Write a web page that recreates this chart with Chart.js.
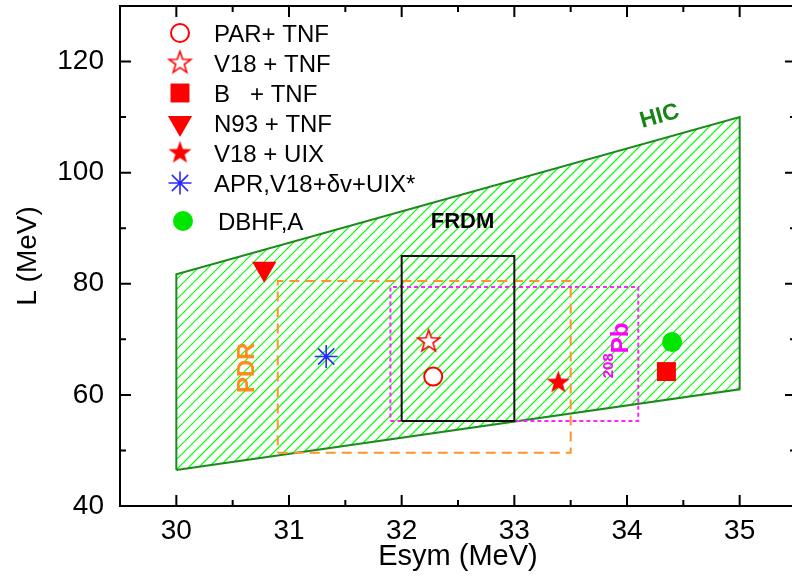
<!DOCTYPE html>
<html>
<head>
<meta charset="utf-8">
<script src="https://cdn.jsdelivr.net/npm/chart.js@4.4.0/dist/chart.umd.min.js"></script>
<style>
  html, body { margin: 0; padding: 0; background: #fff; overflow: hidden; }
  canvas { display: block; }
</style>
</head>
<body>
<canvas id="chart" width="800" height="577"></canvas>
<script>
const FONT = "'Liberation Sans', Arial, Helvetica, sans-serif";

// axis ticks
const xTicks = [30, 31, 32, 33, 34, 35];
const yTicks = [40, 60, 80, 100, 120];

// model predictions: symmetry energy Esym and slope L (MeV)
const models = ["PAR+ TNF", "V18 + TNF", "B   + TNF", "N93 + TNF", "V18 + UIX", "APR,V18+\u03B4v+UIX*", "DBHF,A"];
const esym = [32.28, 32.24, 34.35, 30.78, 33.39, 31.33, 34.40];
const slope = [63.3, 69.6, 64.2, 82.7, 62.2, 66.9, 69.5];

// constraint regions
const hicUpper = [[30, 81.7], [35, 110]];
const hicLower = [[30, 46.5], [35, 61]];
const frdmEsym = [32, 33];
const frdmL = [55.3, 85];
const pdrEsym = [30.9, 33.5];
const pdrL = [49.6, 80.5];
const pbEsym = [31.9, 34.1];
const pbL = [55.3, 79.4];

const ctx = document.getElementById("chart").getContext("2d");

function starImage(R, r, fill, stroke, lw) {
    const size = Math.ceil(2 * R + lw + 4);
    const c = document.createElement("canvas");
    c.width = size; c.height = size;
    const g = c.getContext("2d");
    const cx = size / 2, cy = size / 2;
    g.beginPath();
    for (let i = 0; i < 10; i++) {
        const rad = i % 2 === 0 ? R : r;
        const a = -Math.PI / 2 + i * Math.PI / 5;
        const px = cx + rad * Math.cos(a), py = cy + rad * Math.sin(a);
        if (i === 0) g.moveTo(px, py); else g.lineTo(px, py);
    }
    g.closePath();
    g.fillStyle = fill;
    g.fill();
    if (lw > 0) {
        g.lineWidth = lw;
        g.strokeStyle = stroke;
        g.lineJoin = "miter";
        g.stroke();
    }
    return c;
}

// marker look for each model, in the same order as above
const markers = [
    { pointStyle: "circle", radius: 9, backgroundColor: "#fff", borderColor: "#ff0000", borderWidth: 2 },
    { pointStyle: starImage(11.5, 4.6, "#fff", "#ff0000", 1.6), radius: 11, backgroundColor: "#ff0000", borderColor: "#ff0000", borderWidth: 0 },
    { pointStyle: "rect", radius: 13.4, backgroundColor: "#ff0000", borderColor: "#ff0000", borderWidth: 0 },
    { pointStyle: "triangle", rotation: 180, radius: 14, backgroundColor: "#ff0000", borderColor: "#ff0000", borderWidth: 0 },
    { pointStyle: starImage(12.2, 4.9, "#ff0000", "#ff0000", 0), radius: 12, backgroundColor: "#ff0000", borderColor: "#ff0000", borderWidth: 0 },
    { pointStyle: "star", radius: 11.5, backgroundColor: "#2a2aff", borderColor: "#2a2aff", borderWidth: 1.6 },
    { pointStyle: "circle", radius: 10, backgroundColor: "#00e600", borderColor: "#00e600", borderWidth: 0 }
];

function box(xs, ls) {
    return [
        { x: xs[0], y: ls[0] }, { x: xs[1], y: ls[0] }, { x: xs[1], y: ls[1] },
        { x: xs[0], y: ls[1] }, { x: xs[0], y: ls[0] }
    ];
}

function shape(data, color, width, dash) {
    return {
        data: data, showLine: true, fill: false, pointRadius: 0, tension: 0,
        borderColor: color, borderWidth: width, borderDash: dash || [],
        borderJoinStyle: "miter", borderCapStyle: "butt"
    };
}

const datasets = [];
models.forEach((name, i) => {
    const m = markers[i];
    datasets.push({
        label: name,
        data: [{ x: esym[i], y: slope[i] }],
        pointStyle: m.pointStyle,
        rotation: m.rotation || 0,
        pointRadius: m.radius,
        backgroundColor: m.backgroundColor,
        borderColor: m.borderColor,
        borderWidth: m.borderWidth
    });
});

datasets.push(shape(box(frdmEsym, frdmL), "#111", 2));
datasets.push(shape(box(pbEsym, pbL), "#ff22ff", 2, [4, 3]));
datasets.push(shape(box(pdrEsym, pdrL), "#ff9428", 2, [10, 6]));
datasets.push(shape([
    { x: hicLower[0][0], y: hicLower[0][1] }, { x: hicUpper[0][0], y: hicUpper[0][1] },
    { x: hicUpper[1][0], y: hicUpper[1][1] }, { x: hicLower[1][0], y: hicLower[1][1] },
    { x: hicLower[0][0], y: hicLower[0][1] }
], "#1c8a1c", 2));

// diagonal hatching inside the HIC band
const hatchPlugin = {
    id: "hicHatch",
    beforeDatasetsDraw(chart) {
        const { ctx, chartArea: a, scales: { x, y } } = chart;
        const poly = [hicLower[0], hicUpper[0], hicUpper[1], hicLower[1]]
            .map(p => [x.getPixelForValue(p[0]), y.getPixelForValue(p[1])]);
        ctx.save();
        ctx.beginPath();
        poly.forEach((p, i) => i ? ctx.lineTo(p[0], p[1]) : ctx.moveTo(p[0], p[1]));
        ctx.closePath();
        ctx.clip();
        ctx.setLineDash([]);
        ctx.strokeStyle = "#00ff00";
        ctx.lineWidth = 1.2;
        ctx.beginPath();
        const h = a.bottom - a.top;
        for (let k = a.left - h; k < a.right; k += 10) {
            ctx.moveTo(k, a.bottom);
            ctx.lineTo(k + h, a.top);
        }
        ctx.stroke();
        ctx.restore();
    }
};

// frame with inward ticks on all four sides
const framePlugin = {
    id: "frame",
    afterDraw(chart) {
        const { ctx, chartArea: a, scales: { x, y } } = chart;
        ctx.save();
        ctx.strokeStyle = "#000";
        ctx.lineWidth = 2;
        ctx.beginPath();
        for (let v = 30; v <= 35; v += 0.5) {
            const len = Number.isInteger(v) ? 11 : 6;
            const px = x.getPixelForValue(v);
            ctx.moveTo(px, a.bottom); ctx.lineTo(px, a.bottom - len);
            ctx.moveTo(px, a.top); ctx.lineTo(px, a.top + len);
        }
        for (let v = 50; v < 130; v += 10) {
            const len = yTicks.includes(v) ? 11 : 6;
            const py = y.getPixelForValue(v);
            ctx.moveTo(a.left, py); ctx.lineTo(a.left + len, py);
            ctx.moveTo(a.right, py); ctx.lineTo(a.right - len, py);
        }
        ctx.stroke();
        ctx.strokeRect(a.left, a.top, a.right - a.left, a.bottom - a.top);
        ctx.restore();
    }
};

// legend block in the upper left corner
const legendPlugin = {
    id: "modelLegend",
    afterDatasetsDraw(chart) {
        const ctx = chart.ctx;
        ctx.save();
        ctx.font = "24px " + FONT;
        ctx.textBaseline = "alphabetic";
        models.forEach((name, i) => {
            const m = markers[i];
            const last = i === models.length - 1;
            const ly = last ? 221 : 33 + i * 30;
            const mx = last ? 183 : 180;
            const tx = last ? 218 : 214;
            ctx.fillStyle = m.backgroundColor;
            ctx.strokeStyle = m.borderColor;
            ctx.lineWidth = m.borderWidth;
            Chart.helpers.drawPoint(ctx, {
                pointStyle: m.pointStyle, rotation: m.rotation || 0,
                radius: m.radius, borderWidth: m.borderWidth
            }, mx, ly);
            ctx.fillStyle = "#000";
            ctx.fillText(name, tx, ly + 9);
        });
        ctx.restore();
    }
};

// region names
const labelPlugin = {
    id: "regionLabels",
    afterDatasetsDraw(chart) {
        const { ctx, scales: { x, y } } = chart;
        const upA = { x: x.getPixelForValue(hicUpper[0][0]), y: y.getPixelForValue(hicUpper[0][1]) };
        const upB = { x: x.getPixelForValue(hicUpper[1][0]), y: y.getPixelForValue(hicUpper[1][1]) };
        const hicAngle = Math.atan2(upB.y - upA.y, upB.x - upA.x);
        ctx.save();
        ctx.textAlign = "center";
        ctx.textBaseline = "middle";

        ctx.save();
        ctx.translate(x.getPixelForValue(34.29), y.getPixelForValue(110.1));
        ctx.rotate(hicAngle);
        ctx.fillStyle = "#168416";
        ctx.font = "bold 23px " + FONT;
        ctx.fillText("HIC", 0, 0);
        ctx.restore();

        ctx.fillStyle = "#000";
        ctx.font = "bold 22px " + FONT;
        ctx.fillText("FRDM", x.getPixelForValue(32.54), y.getPixelForValue(91.1));

        ctx.save();
        ctx.translate(x.getPixelForValue(30.63), y.getPixelForValue(64.9));
        ctx.rotate(-Math.PI / 2);
        ctx.fillStyle = "#ff8c1a";
        ctx.font = "bold 24px " + FONT;
        ctx.fillText("PDR", 0, 0);
        ctx.restore();

        ctx.save();
        ctx.translate(x.getPixelForValue(34.01), y.getPixelForValue(63.0));
        ctx.rotate(-Math.PI / 2);
        ctx.fillStyle = "#ff00ff";
        ctx.textAlign = "left";
        ctx.textBaseline = "alphabetic";
        ctx.font = "bold 15px " + FONT;
        ctx.fillText("208", 0, -15);
        const w = ctx.measureText("208").width;
        ctx.font = "bold 24px " + FONT;
        ctx.fillText("Pb", w, 0);
        ctx.restore();

        ctx.restore();
    }
};

new Chart(ctx, {
    type: "scatter",
    data: { datasets: datasets },
    options: {
        responsive: false,
        animation: false,
        devicePixelRatio: 1,
        layout: { autoPadding: false, padding: { top: 6, right: 4, left: 0, bottom: 0 } },
        plugins: { legend: { display: false }, tooltip: { enabled: false } },
        scales: {
            x: {
                type: "linear", min: 29.5, max: 35.5,
                grid: { display: false }, border: { display: false },
                ticks: { color: "#000", font: { family: FONT, size: 28 }, padding: 0, maxRotation: 0 },
                afterBuildTicks: s => { s.ticks = xTicks.map(v => ({ value: v })); },
                afterFit: s => { s.height = 71; s.paddingLeft = 0; s.paddingRight = 0; },
                title: { display: true, text: "Esym (MeV)", color: "#000", font: { family: FONT, size: 29 }, padding: { top: 0, bottom: 3 } }
            },
            y: {
                type: "linear", min: 40, max: 130,
                grid: { display: false }, border: { display: false },
                ticks: { color: "#000", font: { family: FONT, size: 28 }, padding: 8 },
                afterBuildTicks: s => { s.ticks = yTicks.map(v => ({ value: v })); },
                afterFit: s => { s.width = 120; s.paddingTop = 0; s.paddingBottom = 0; },
                title: { display: true, text: "L (MeV)", color: "#000", font: { family: FONT, size: 28 }, padding: { top: 11, bottom: 0 } }
            }
        }
    },
    plugins: [hatchPlugin, framePlugin, legendPlugin, labelPlugin]
});
</script>
</body>
</html>
